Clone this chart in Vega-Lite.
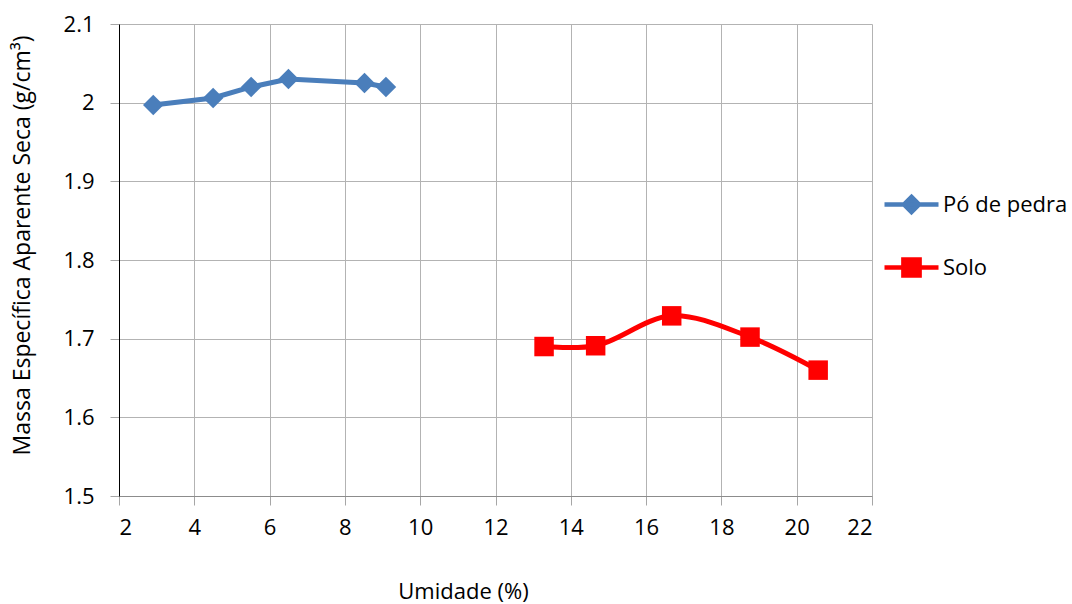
{
  "$schema": "https://vega.github.io/schema/vega-lite/v6.json",
  "autosize": "none",
  "width": 753,
  "height": 472,
  "padding": {"left": 119, "top": 24, "right": 200, "bottom": 108},
  "background": "#ffffff",
  "config": {
    "view": {"stroke": null},
    "font": "Open Sans",
    "axis": {
      "labelFont": "Open Sans",
      "titleFont": "Open Sans",
      "labelFontSize": 22,
      "titleFontSize": 22,
      "titleFontWeight": "normal",
      "labelColor": "#000000",
      "titleColor": "#000000",
      "gridColor": "#b3b3b3",
      "gridWidth": 1,
      "tickColor": "#a6a6a6",
      "tickSize": 9
    }
  },
  "data": {
    "values": [
      {"serie": "Pó de pedra", "umidade": 2.91, "massa": 1.997},
      {"serie": "Pó de pedra", "umidade": 4.50, "massa": 2.006},
      {"serie": "Pó de pedra", "umidade": 5.51, "massa": 2.020},
      {"serie": "Pó de pedra", "umidade": 6.50, "massa": 2.030},
      {"serie": "Pó de pedra", "umidade": 8.52, "massa": 2.025},
      {"serie": "Pó de pedra", "umidade": 9.09, "massa": 2.020},
      {"serie": "Solo", "umidade": 13.29, "massa": 1.690},
      {"serie": "Solo", "umidade": 14.66, "massa": 1.691},
      {"serie": "Solo", "umidade": 16.68, "massa": 1.729},
      {"serie": "Solo", "umidade": 18.76, "massa": 1.702},
      {"serie": "Solo", "umidade": 20.57, "massa": 1.660}
    ]
  },
  "encoding": {
    "x": {
      "field": "umidade",
      "type": "quantitative",
      "scale": {"domain": [2, 22], "nice": false, "zero": false},
      "axis": {
        "title": "Umidade (%)",
        "values": [2, 4, 6, 8, 10, 12, 14, 16, 18, 20, 22],
        "domainColor": "#8c8c8c",
        "labelPadding": 12,
        "titleX": 344,
        "titleY": 95,
        "titleBaseline": "middle",
        "titleAnchor": "middle"
      }
    },
    "y": {
      "field": "massa",
      "type": "quantitative",
      "scale": {"domain": [1.5, 2.1], "nice": false, "zero": false},
      "axis": {
        "title": "Massa Específica Aparente Seca (g/cm³)",
        "titleFontSize": 23,
        "values": [1.5, 1.6, 1.7, 1.8, 1.9, 2.0, 2.1],
        "format": ".2~f",
        "domainColor": "#000000",
        "labelPadding": 16,
        "titleX": -97,
        "titleY": 221,
        "titleBaseline": "middle",
        "titleAnchor": "middle"
      }
    },
    "color": {
      "field": "serie",
      "type": "nominal",
      "scale": {"domain": ["Pó de pedra", "Solo"], "range": ["#4a7ebb", "#ff0000"]},
      "legend": {
        "orient": "none",
        "legendX": 763,
        "legendY": 151,
        "title": null,
        "symbolSize": 2916,
        "symbolStrokeWidth": 4.5,
        "symbolType": "M-1,0H1",
        "labelFont": "Open Sans",
        "labelFontSize": 22,
        "labelColor": "#000000",
        "labelOffset": 2,
        "labelLimit": 200,
        "rowPadding": 16,
        "encode": {
          "symbols": {
            "update": {
              "shape": {"signal": "datum.value === 'Solo' ? 'M-1,0H1M-0.3,-0.3H0.3V0.3H-0.3Z' : 'M-1,0H1M0,-0.28L0.28,0L0,0.28L-0.28,0Z'"},
              "fill": {"signal": "scale('color', datum.value)"},
              "stroke": {"signal": "scale('color', datum.value)"},
              "strokeWidth": {"value": 4.5},
              "opacity": {"value": 1}
            }
          }
        }
      }
    }
  },
  "layer": [
    {
      "transform": [{"filter": "datum.serie === 'Pó de pedra'"}],
      "mark": {"type": "line", "strokeWidth": 5, "interpolate": "linear"}
    },
    {
      "transform": [{"filter": "datum.serie === 'Solo'"}],
      "mark": {"type": "line", "strokeWidth": 5, "interpolate": "catmull-rom"}
    },
    {
      "transform": [{"filter": "datum.serie === 'Pó de pedra'"}],
      "mark": {"type": "point", "shape": "diamond", "filled": true, "size": 420, "opacity": 1}
    },
    {
      "transform": [{"filter": "datum.serie === 'Solo'"}],
      "mark": {"type": "point", "shape": "square", "filled": true, "size": 380, "opacity": 1}
    }
  ]
}
